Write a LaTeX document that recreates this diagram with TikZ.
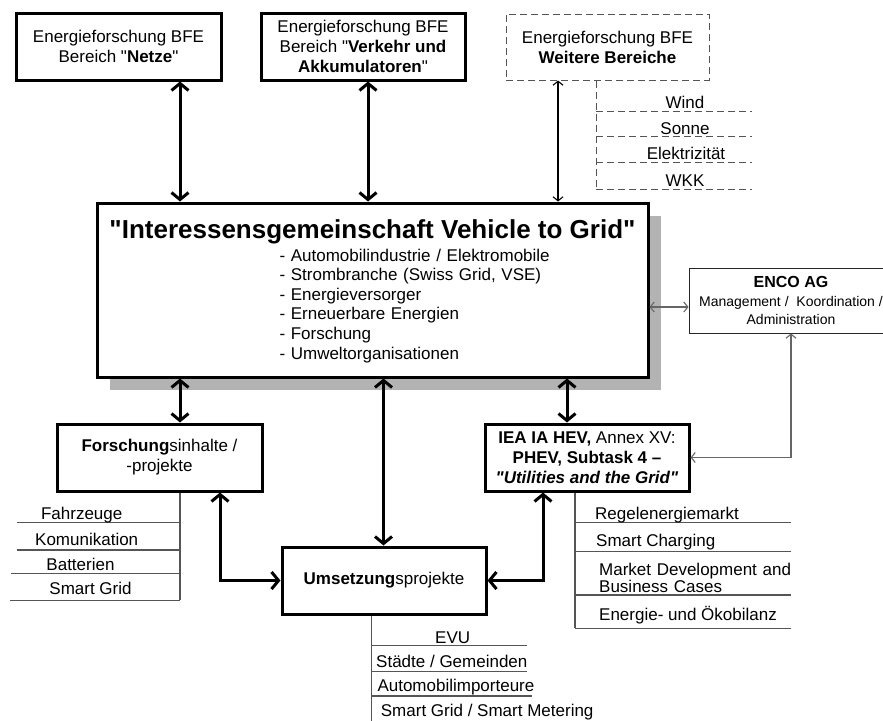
\documentclass[tikz,border=0pt]{standalone}
\usepackage{fontspec}
\setmainfont{Liberation Sans}[Ligatures=TeXOff]
\usetikzlibrary{arrows.meta,shadows,calc}
\definecolor{shadowgray}{HTML}{B3B3B3}
\definecolor{treegray}{HTML}{555555}
\definecolor{encogray}{HTML}{666666}
\newcommand\fsn{\fontsize{17}{20}\selectfont}
\begin{document}
\begin{tikzpicture}[x=1pt,y=-1pt,
  box/.style={draw,line width=3pt,inner sep=0pt,align=center,font=\fsn},
  dbox/.style={draw=treegray,line width=1pt,dash pattern=on 7pt off 4pt,inner sep=0pt,align=center,font=\fsn},
  ebox/.style={draw=black!85,line width=1pt,inner sep=0pt,align=center},
  bigarrow/.style={line width=3pt,{Straight Barb[length=7pt,width=17pt]}-{Straight Barb[length=7pt,width=17pt]}},
  thinarrow/.style={line width=1.1pt,{Straight Barb[length=4pt,width=10pt]}-{Straight Barb[length=4pt,width=10pt]}},
  treeline/.style={draw=treegray,line width=1.2pt},
  dtree/.style={draw=treegray,line width=1pt,dash pattern=on 7pt off 4pt},
  item/.style={font=\fsn,inner sep=0pt,anchor=base},
  itemw/.style={font=\fsn,inner sep=0pt,anchor=base west},
]
\useasboundingbox (0,0) rectangle (883,720);

% ---------- boxes ----------
\node[box,minimum width=205pt,minimum height=67pt] (netze) at (118.5,46.5)
  {Energieforschung BFE\\Bereich "\textbf{Netze}"};
\node[box,minimum width=204pt,minimum height=67pt] (verkehr) at (363,46.5)
  {Energieforschung BFE\\Bereich "\textbf{Verkehr und}\\\textbf{Akkumulatoren}"};
\node[dbox,minimum width=203pt,minimum height=66pt] (weitere) at (607.5,47)
  {Energieforschung BFE\\\textbf{Weitere Bereiche}};

\node[box,fill=white,minimum width=551pt,minimum height=174pt,
  drop shadow={shadow xshift=13pt,shadow yshift=-13pt,fill=shadowgray,opacity=1}] (main) at (372.5,290) {};
\node[inner sep=0pt,anchor=base,font=\bfseries\fontsize{26}{30}\selectfont] (title) at (372.5,238.3)
  {"Interessensgemeinschaft Vehicle to Grid"};
\node[inner sep=0pt,anchor=base west,text width=330pt,align=left,font=\fontsize{17}{19.6}\selectfont] (members) at (279.3,261)
  {- Automobilindustrie / Elektromobile\\- Strombranche (Swiss Grid, VSE)\\- Energieversorger\\- Erneuerbare Energien\\- Forschung\\- Umweltorganisationen};

\node[ebox,minimum width=204pt,minimum height=65pt,font=\fontsize{14}{18.5}\selectfont] (enco) at (791,300.5)
  {{\fontsize{16}{18.5}\selectfont\bfseries ENCO AG}\\Management /~ Koordination /\\Administration};

\node[box,minimum width=205pt,minimum height=67pt] (fo) at (159.5,457.5)
  {\textbf{Forschung}sinhalte /\\-projekte};
\node[box,minimum width=204pt,minimum height=67pt] (iea) at (587,457.5)
  {\textbf{IEA IA HEV,} Annex XV:\\\textbf{PHEV, Subtask 4 –}\\\textbf{\itshape "Utilities and the Grid"}};
\node[box,minimum width=204pt,minimum height=67pt] (um) at (384,580.5)
  {\textbf{Umsetzung}sprojekte};

% ---------- connectors ----------
\coordinate (xa) at (180,0);
\coordinate (xb) at (368,0);
\coordinate (xc) at (558,0);
\coordinate (xu) at (383.5,0);
\coordinate (xi) at (567,0);
\coordinate (xd) at (220,0);
\coordinate (xe) at (543,0);
\coordinate (xf) at (791,0);
\coordinate (ye) at (0,307);

\draw[bigarrow] (netze.south -| xa) -- (main.north -| xa);
\draw[bigarrow] (verkehr.south -| xb) -- (main.north -| xb);
\draw[thinarrow] (weitere.south -| xc) -- (main.north -| xc);

\draw[bigarrow] (main.south -| xa) -- (fo.north -| xa);
\draw[bigarrow] (main.south -| xu) -- (um.north -| xu);
\draw[bigarrow] (main.south -| xi) -- (iea.north -| xi);

\draw[bigarrow] (fo.south -| xd) |- (um.west);
\draw[bigarrow] (iea.south -| xe) |- (um.east);

\draw[thinarrow,encogray] (main.east |- ye) -- (enco.west |- ye);
\draw[thinarrow,encogray] (enco.south -| xf) |- (iea.east);

% ---------- Weitere Bereiche list ----------
\draw[dtree] (weitere.south -| 596,0) -- (596,189);
\foreach \y in {111,136.7,162.3,189} \draw[dtree] (596,\y) -- (752,\y);
\node[item] (wind) at (685,108) {Wind};
\node[item] (sonne) at (685,134) {Sonne};
\node[item] (elek) at (686,159.5) {Elektrizität};
\node[item] (wkk) at (685,186) {WKK};

% ---------- Forschung list ----------
\draw[treeline] (fo.south -| xa) -- (180,600.3);
\draw[treeline] (16.7,522.3) -- (180,522.3);
\draw[treeline] (16.7,550) -- (180,550);
\draw[treeline] (11,573.3) -- (180,573.3);
\draw[treeline] (10,600.3) -- (180,600.3);
\node[item] (fahr) at (81.7,519) {Fahrzeuge};
\node[item] (komm) at (86.7,545) {Komunikation};
\node[item] (batt) at (80.5,570) {Batterien};
\node[item] (sgrid) at (90.5,594) {Smart Grid};

% ---------- IEA list ----------
\draw[treeline] (iea.south -| 575,0) -- (575,628.3);
\foreach \y in {522.3,551.7,595,628.3} \draw[treeline] (575,\y) -- (791,\y);
\node[itemw] (regel) at (595,519.3) {Regelenergiemarkt};
\node[itemw] (smartc) at (596,546.7) {Smart Charging};
\node[itemw,text width=200pt,align=left,font=\fontsize{17}{17.7}\selectfont] (market) at (599,575) {Market Development and\\Business Cases};
\node[itemw] (oeko) at (599,620) {Energie- und Ökobilanz};

% ---------- Umsetzung list ----------
\draw[treeline] (um.south -| 371.7,0) -- (371.7,722);
\draw[treeline] (371.7,645.7) -- (526.7,645.7);
\draw[treeline] (371.7,671.7) -- (526.7,671.7);
\draw[treeline] (371.7,696) -- (531.7,696);
\node[item] (evu) at (452.7,643.3) {EVU};
\node[itemw] (staedte) at (376,667.7) {Städte / Gemeinden};
\node[itemw] (autoimp) at (377.3,691.7) {Automobilimporteure};
\node[itemw] (sgsm) at (380.7,716.7) {Smart Grid / Smart Metering};
\end{tikzpicture}
\end{document}
